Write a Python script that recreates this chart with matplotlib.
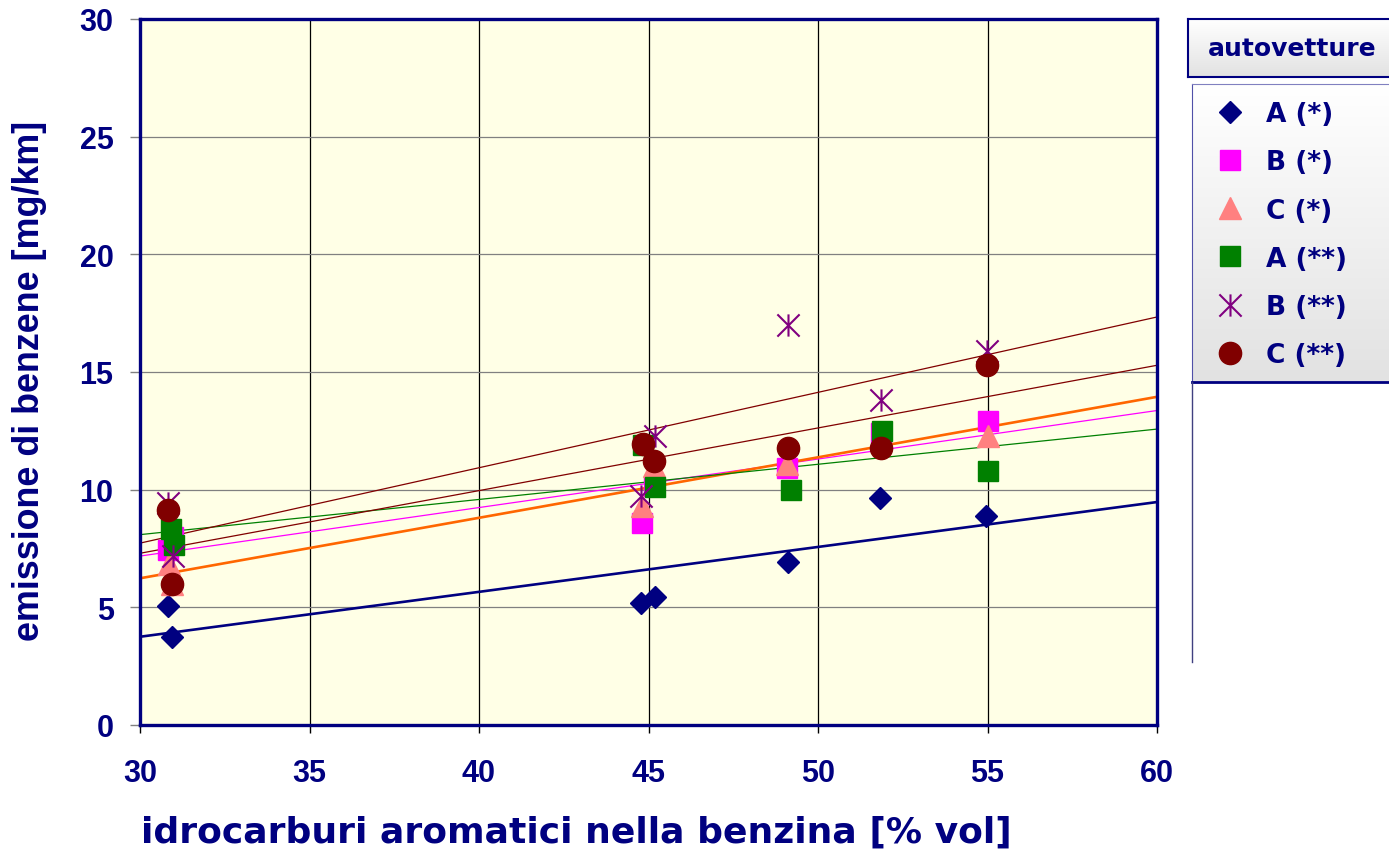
import numpy as np
import matplotlib.pyplot as plt
from matplotlib.path import Path
from matplotlib.lines import Line2D
from matplotlib.colors import LinearSegmentedColormap

plt.rcParams['font.family'] = ['Liberation Sans', 'DejaVu Sans']
plt.rcParams['font.weight'] = 'bold'

NAVY = '#000080'
LARGO = 'DejaVu Sans'   # testo piu' largo, come nell'originale

# dati (x = aromatici % vol, y = benzene mg/km)
x_A1 = [30.83, 30.94, 44.78, 45.19, 49.12, 51.83, 54.96]
y_A1 = [5.05, 3.75, 5.18, 5.44, 6.93, 9.65, 8.88]
x_B1 = [30.83, 30.97, 44.80, 45.15, 49.10, 51.85, 55.00]
y_B1 = [7.44, 8.00, 8.60, 10.15, 10.90, 12.40, 12.90]
x_C1 = [30.85, 30.95, 44.80, 45.15, 49.10, 51.85, 55.00]
y_C1 = [6.85, 6.00, 9.30, 11.00, 11.10, 12.20, 12.30]
x_A2 = [30.90, 31.00, 44.85, 45.19, 49.20, 51.90, 55.00]
y_A2 = [8.33, 7.65, 11.90, 10.10, 10.00, 12.50, 10.80]
x_B2 = [30.83, 30.97, 45.19, 44.78, 49.12, 51.85, 54.98]
y_B2 = [9.45, 7.20, 12.30, 9.75, 17.00, 13.80, 15.90]
x_C2 = [30.83, 30.94, 44.84, 45.16, 49.12, 51.85, 54.98]
y_C2 = [9.15, 6.00, 11.95, 11.20, 11.75, 11.75, 15.30]

labels = ['A (*)', 'B (*)', 'C (*)', 'A (**)', 'B (**)', 'C (**)']

# asterisco stile excel: X + linea verticale
asterisco = Path([(-1, -1), (1, 1), (-1, 1), (1, -1), (0, -1), (0, 1)],
                 [Path.MOVETO, Path.LINETO, Path.MOVETO, Path.LINETO, Path.MOVETO, Path.LINETO])

serie = [
    (x_A1, y_A1, dict(marker='D', ms=11, color=NAVY), dict(color=NAVY, lw=1.9)),
    (x_B1, y_B1, dict(marker='s', ms=15, color='#FF00FF'), dict(color='#FF00FF', lw=0.9)),
    (x_C1, y_C1, dict(marker='^', ms=16, color='#FF8080'), dict(color='#FF6600', lw=1.9)),
    (x_A2, y_A2, dict(marker='s', ms=14.5, color='#008000'), dict(color='#008000', lw=0.9)),
    (x_B2, y_B2, dict(marker=asterisco, ms=16, color='#800080', mew=1.5, fillstyle='none'), dict(color='#800000', lw=0.9)),
    (x_C2, y_C2, dict(marker='o', ms=16, color='#800000'), dict(color='#800000', lw=0.9)),
]

fig = plt.figure(figsize=(13.89, 8.53), dpi=100)
ax = fig.add_axes([140/1389, 127/853, 1017/1389, 706/853])
ax.set_facecolor('#FFFFE6')

handles = []
xx = np.array([30, 60])
for xs, ys, mk, ln in serie:
    # linea di tendenza lineare
    k, q = np.polyfit(xs, ys, 1)
    ax.plot(xx, k*xx + q, zorder=2, **ln)
for xs, ys, mk, ln in serie:
    h, = ax.plot(xs, ys, linestyle='none', zorder=3, **mk)
    handles.append(h)

ax.set_xlim(30, 60)
ax.set_ylim(0, 30)
ax.set_xticks(range(30, 61, 5))
ax.set_yticks(range(0, 31, 5))
ax.set_axisbelow(True)
ax.yaxis.grid(True, color='#808080', lw=0.9)
ax.xaxis.grid(True, color='black', lw=0.9)
for s in ax.spines.values():
    s.set_color(NAVY)
    s.set_linewidth(2.4)
ax.tick_params(axis='y', direction='out', length=7, width=1, color='#808080',
               pad=12, labelsize=22, labelcolor=NAVY)
ax.tick_params(axis='x', direction='out', length=6, width=1, color='black',
               pad=18, labelsize=22, labelcolor=NAVY)

fig.text(576/1389, 20/853, 'idrocarburi aromatici nella benzina [% vol]',
         ha='center', va='center', fontsize=26, color=NAVY, family=LARGO)
fig.text(30/1389, (853-381)/853, 'emissione di benzene [mg/km]', rotation=90,
         ha='center', va='center', fontsize=25.8, color=NAVY)

# riquadro legenda con sfumatura
grad = LinearSegmentedColormap.from_list('g', ['#E2E2E2', '#FFFFFF'])
lax = fig.add_axes([1192/1389, (853-383)/853, 197/1389, 298/853])
lax.imshow(np.linspace(0, 1, 100).reshape(-1, 1)[::-1], cmap=grad, aspect='auto',
           extent=[0, 1, 0, 1], origin='upper')
lax.set_xticks([])
lax.set_yticks([])
lax.spines['right'].set_visible(False)
lax.spines['left'].set_color('#5050a8')
lax.spines['top'].set_color('#8080c0')
lax.spines['bottom'].set_color(NAVY)
lax.spines['bottom'].set_linewidth(2)

tax = fig.add_axes([1188/1389, (853-78)/853, 201/1389, 58/853])
tax.imshow(np.linspace(0, 1, 100).reshape(-1, 1)[::-1], cmap=grad, aspect='auto',
           extent=[0, 1, 0, 1], origin='upper')
tax.set_xticks([])
tax.set_yticks([])
for s in tax.spines.values():
    s.set_color(NAVY)
    s.set_linewidth(1.5)
tax.spines['right'].set_visible(False)
tax.text(0.52, 0.5, 'autovetture', transform=tax.transAxes, ha='center', va='center',
         fontsize=18, color=NAVY, family=LARGO)

fig.legend(handles, labels, loc='upper left', bbox_to_anchor=(1201/1389, (853-89)/853),
           frameon=False, prop=dict(size=19, weight='bold', family=LARGO), labelcolor=NAVY,
           handletextpad=0.75, labelspacing=0.84, borderpad=0, handlelength=1.2)

fig.add_artist(Line2D([1192/1389, 1192/1389], [(853-663)/853, (853-383)/853],
                      color='#404080', lw=1))

fig.savefig('out.png', dpi=100)
